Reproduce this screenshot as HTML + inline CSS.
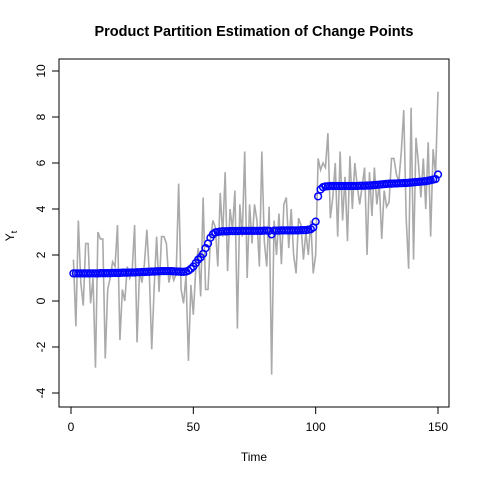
<!DOCTYPE html>
<html><head><meta charset="utf-8"><style>
body{margin:0;background:#fff}
svg text{font-family:"Liberation Sans",Arial,sans-serif}
</style></head><body>
<svg id="chart" width="480" height="480">
<text x="254" y="36" text-anchor="middle" font-size="14.5" font-weight="bold">Product Partition Estimation of Change Points</text>
<rect x="59" y="59" width="390" height="348" fill="none" stroke="#000" stroke-width="1"/>
<text x="254" y="461" text-anchor="middle" font-size="12">Time</text>
<text transform="translate(14,236) rotate(-90)" text-anchor="middle" font-size="12">Y<tspan font-size="9" dy="3">t</tspan></text>
<g id="axes"></g>
<g id="series"></g>
</svg>
<script>
const xTicks=[0,50,100,150];
const yTicks=[-4,-2,0,2,4,6,8,10];
const observed=[1.8,-1.1,3.5,0.8,-0.2,2.5,2.5,-0.1,1.0,-2.9,3.0,2.7,2.7,-2.5,0.5,1.0,1.7,1.5,3.3,-1.7,0.5,0.0,1.5,1.0,1.3,3.3,-1.8,1.3,0.8,1.6,3.1,1.2,-2.1,0.6,2.8,0.4,2.8,2.8,2.5,0.8,1.3,0.9,1.2,5.1,0.5,-0.1,1.1,-2.6,0.7,-0.6,1.4,2.3,0.2,4.5,0.5,0.5,2.7,3.5,3.2,1.5,4.7,2.8,5.6,1.3,4.0,3.1,4.8,-1.2,4.2,2.8,6.5,1.0,4.2,2.5,4.2,3.5,1.5,6.5,2.6,1.5,4.1,-3.2,3.5,2.0,3.8,1.6,4.2,4.5,2.3,4.0,2.0,1.2,3.6,3.3,1.8,3.0,2.0,3.5,1.2,2.0,6.2,5.7,6.0,5.8,7.3,3.6,4.5,6.0,2.8,6.5,3.5,5.4,2.6,6.3,4.0,6.0,5.0,4.2,5.0,5.8,2.0,5.6,3.7,5.8,4.2,5.1,2.7,4.8,4.1,4.3,6.2,6.2,5.5,5.2,6.5,8.3,3.6,1.4,8.4,1.8,7.1,6.0,4.5,6.2,4.0,6.9,2.8,6.6,5.5,9.1];
const estimate=[1.2,1.2,1.2,1.2,1.2,1.2,1.2,1.2,1.2,1.2,1.2,1.21,1.21,1.21,1.21,1.21,1.22,1.22,1.22,1.22,1.23,1.23,1.23,1.24,1.24,1.24,1.25,1.25,1.26,1.26,1.27,1.27,1.28,1.28,1.29,1.29,1.3,1.3,1.3,1.3,1.3,1.29,1.28,1.28,1.27,1.27,1.28,1.32,1.4,1.5,1.65,1.8,1.9,2.05,2.3,2.5,2.75,2.9,2.98,3.0,3.02,3.03,3.03,3.03,3.04,3.04,3.04,3.04,3.05,3.05,3.05,3.05,3.05,3.05,3.05,3.05,3.05,3.05,3.06,3.06,3.05,2.9,3.06,3.06,3.06,3.07,3.07,3.07,3.07,3.07,3.07,3.07,3.07,3.08,3.08,3.08,3.1,3.12,3.2,3.45,4.55,4.85,4.95,4.98,4.99,5.0,5.0,5.0,5.0,5.0,5.0,5.0,5.0,5.0,5.0,5.0,5.0,5.01,5.01,5.01,5.02,5.02,5.03,5.04,5.05,5.06,5.07,5.08,5.09,5.1,5.1,5.11,5.11,5.12,5.12,5.13,5.13,5.14,5.15,5.16,5.17,5.18,5.19,5.2,5.21,5.23,5.25,5.28,5.3,5.5];
const X=v=>71+v*(438-71)/150;
const Y=v=>301-v*23;
const NS='http://www.w3.org/2000/svg';
const axes=document.getElementById('axes'),series=document.getElementById('series');
function mk(tag,attrs,parent){const e=document.createElementNS(NS,tag);for(const k in attrs)e.setAttribute(k,attrs[k]);parent.appendChild(e);return e;}
const xl=mk('line',{x1:X(0),x2:X(150),y1:407,y2:407,stroke:'#000'},axes);


xTicks.forEach(t=>{
 const l=mk('line',{x1:X(t),x2:X(t),y1:407,y2:414,stroke:'#000'},axes);
 
 
 const tx=mk('text',{x:X(t),y:431,'text-anchor':'middle','font-size':12},axes);tx.textContent=t;
 
 
});
yTicks.forEach(t=>{
 const l=mk('line',{x1:52,x2:59,y1:Y(t),y2:Y(t),stroke:'#000'},axes);
 
 
 const tx=mk('text',{transform:`translate(45,${Y(t)}) rotate(-90)`,'text-anchor':'middle','font-size':12},axes);tx.textContent=t;
 
 
});
const ln=mk('polyline',{points:observed.map((v,i)=>X(i+1)+','+Y(v)).join(' '),fill:'none',stroke:'#aaaaaa','stroke-width':1.6},series);


estimate.forEach((v,i)=>{
 const c=mk('circle',{cx:X(i+1),cy:Y(v),r:3.4,fill:'none',stroke:'#0000ff','stroke-width':1.5},series);
 
 
});
</script>
</body></html>
